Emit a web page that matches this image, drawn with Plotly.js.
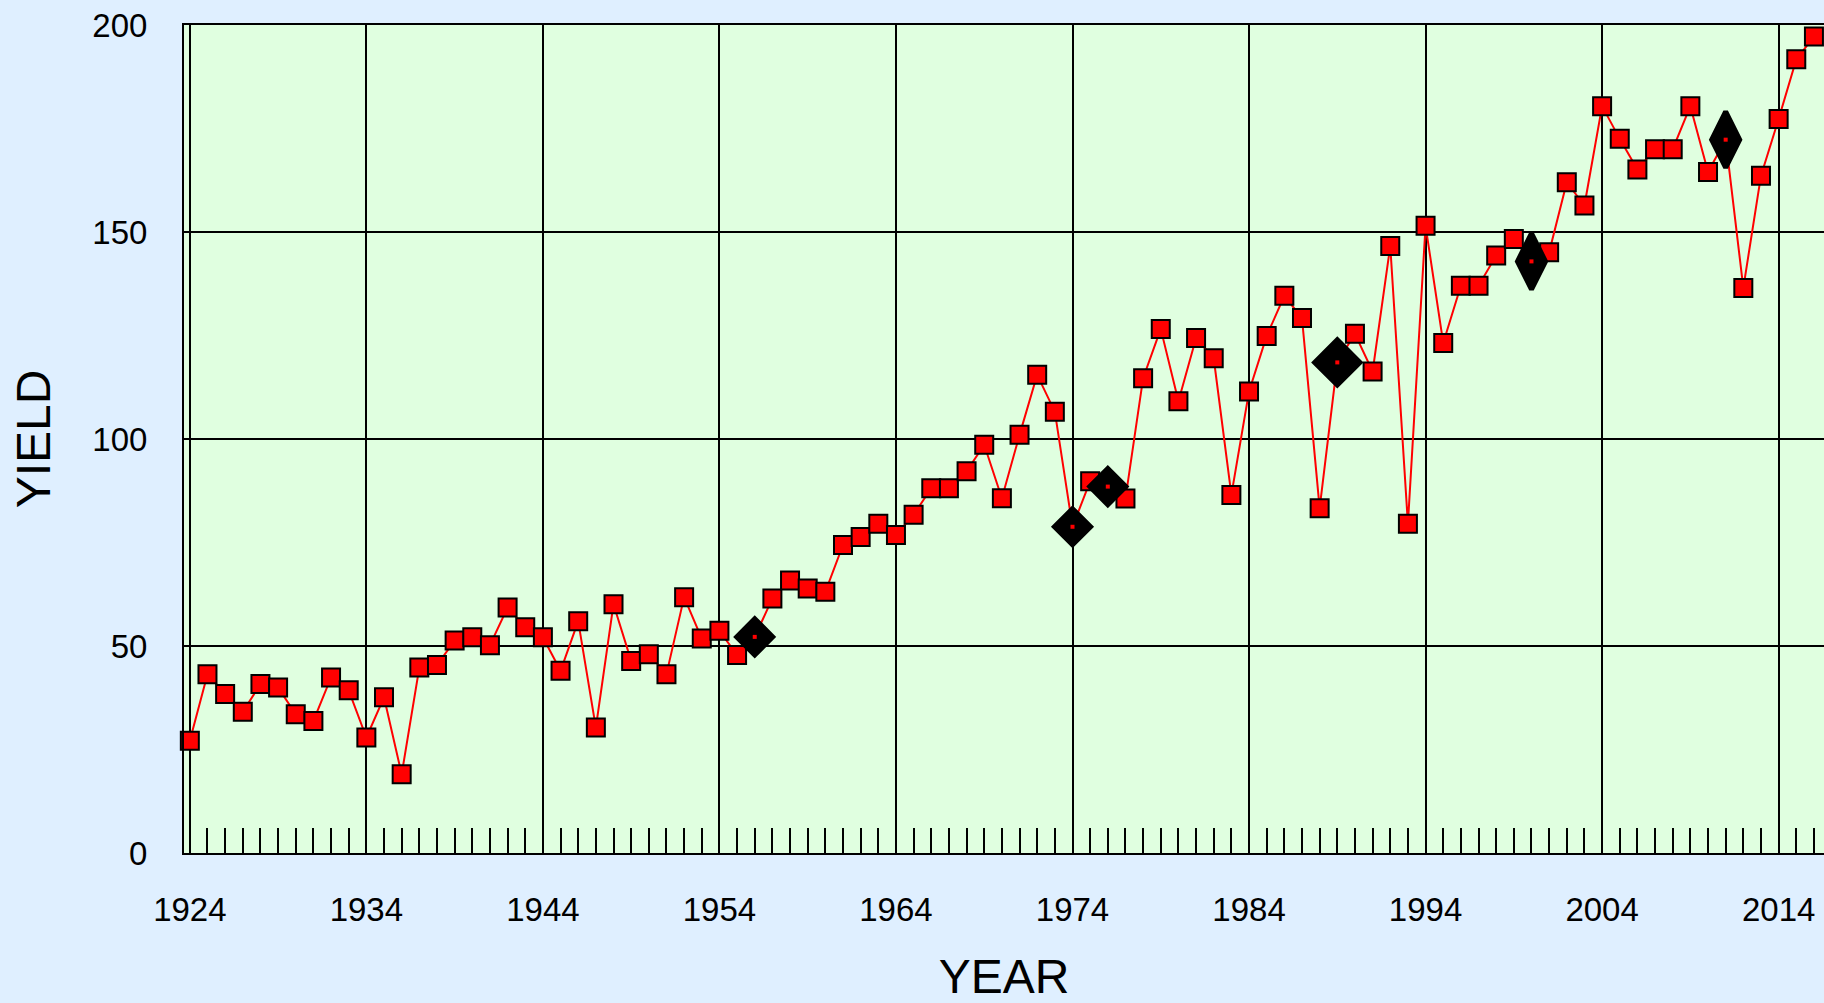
<!DOCTYPE html>
<html>
<head>
<meta charset="utf-8">
<script src="https://cdn.plot.ly/plotly-3.0.1.min.js"></script>
<style>
html,body{margin:0;padding:0;background:#DFEFFF;}
#chart{width:1824px;height:1003px;}
</style>
</head>
<body>
<div id="chart"></div>
<script>
// ---- data ----
var years = [];
for (var y = 1924; y <= 2016; y++) years.push(y);

var yieldValues = [
  27.1, 43.2, 38.4, 34.1, 40.8, 40.0, 33.5, 31.9, 42.4, 39.3,   // 1924-1933
  27.9, 37.6, 19.0, 44.8, 45.4, 51.3, 52.1, 50.2, 59.3, 54.5,   // 1934-1943
  52.1, 44.0, 56.0, 30.3, 60.1, 46.4, 48.0, 43.2, 61.8, 51.8,   // 1944-1953
  53.7, 47.8, 52.2, 61.5, 65.8, 63.9, 63.1, 74.4, 76.3, 79.5,   // 1954-1963
  76.8, 81.7, 88.1, 88.1, 92.2, 98.6, 85.7, 101.0, 115.5, 106.6, // 1964-1973
  78.8, 89.8, 88.5, 85.6, 114.7, 126.6, 109.1, 124.4, 119.5, 86.5, // 1974-1983
  111.5, 124.9, 134.6, 129.2, 83.3, 118.5, 125.4, 116.3, 146.6, 79.5, // 1984-1993
  151.5, 123.2, 137.0, 137.0, 144.3, 148.3, 142.9, 145.1, 162.0, 156.4, // 1994-2003
  180.4, 172.5, 165.1, 170.0, 170.0, 180.4, 164.5, 172.3, 136.5, 163.6, // 2004-2013
  177.3, 191.7, 197.2                                            // 2014-2016
];

var highlightYears = [1956, 1974, 1976, 1989, 2000, 2011];
var highlightValues = highlightYears.map(function (yr) { return yieldValues[years.indexOf(yr)]; });

var xTickVals = [1924, 1934, 1944, 1954, 1964, 1974, 1984, 1994, 2004, 2014];
var xTickText = ['1924', '1934', '1944', '1954', '1964', '1974', '1984', '1994', '2004', '2014'];
var yTickVals = [0, 50, 100, 150, 200];
var yTickText = ['0', '50', '100', '150', '200'];

// ---- traces ----
var mainTrace = {
  x: years, y: yieldValues, type: 'scatter', mode: 'lines+markers',
  line: {color: '#FF0000', width: 2},
  marker: {symbol: 'square', size: 18, color: '#FF0000', opacity: 1, line: {color: '#000000', width: 2}},
  hoverinfo: 'x+y', cliponaxis: false
};
var diamondTrace = {
  x: highlightYears, y: highlightValues, type: 'scatter', mode: 'markers',
  marker: {
    symbol: ['diamond', 'diamond', 'diamond', 'diamond', 'diamond-tall', 'diamond-tall'],
    size: [31, 31, 31, 37, 40, 40],
    opacity: 1,
    color: '#000000', line: {color: '#000000', width: [2, 2, 2, 3, 5, 5]}
  },
  hoverinfo: 'x+y', cliponaxis: false
};
var dotTrace = {
  x: highlightYears, y: highlightValues, type: 'scatter', mode: 'markers',
  marker: {symbol: 'square', size: 4, color: '#FF0000', opacity: 1},
  hoverinfo: 'skip', cliponaxis: false
};

var fontFam = '"Liberation Sans", Arial, sans-serif';

var layout = {
  width: 1824, height: 1003,
  paper_bgcolor: '#DFEFFF',
  plot_bgcolor: '#E0FFE0',
  margin: {l: 184, r: 0, t: 25, b: 150, pad: 0},
  showlegend: false,
  font: {family: fontFam, color: '#000000'},
  xaxis: {
    range: [1923.67, 2016.57],
    tickmode: 'array', tickvals: xTickVals, ticktext: xTickText,
    showgrid: true, gridcolor: '#000000', gridwidth: 2,
    ticks: '', showline: true, linecolor: '#000000', linewidth: 2, mirror: true,
    zeroline: false,
    tickfont: {family: fontFam, size: 33, color: '#000000'},
    ticklabelstandoff: 26,
    minor: {tickmode: 'linear', tick0: 1924, dtick: 1, ticks: 'inside', ticklen: 25,
            tickwidth: 2, tickcolor: '#000000', showgrid: false},
    title: {text: 'YEAR', font: {family: fontFam, size: 48, color: '#000000'}, standoff: 43},
    automargin: false
  },
  yaxis: {
    range: [0, 200],
    tickmode: 'array', tickvals: yTickVals, ticktext: yTickText,
    showgrid: true, gridcolor: '#000000', gridwidth: 2,
    ticks: '', showline: true, linecolor: '#000000', linewidth: 2, mirror: false,
    zeroline: false,
    tickfont: {family: fontFam, size: 33, color: '#000000'},
    ticklabelstandoff: 28,
    title: {text: 'YIELD', font: {family: fontFam, size: 48, color: '#000000'}, standoff: 27},
    automargin: false
  }
};

Plotly.newPlot('chart', [mainTrace, diamondTrace, dotTrace], layout, {displayModeBar: false, staticPlot: true});
</script>
</body>
</html>
